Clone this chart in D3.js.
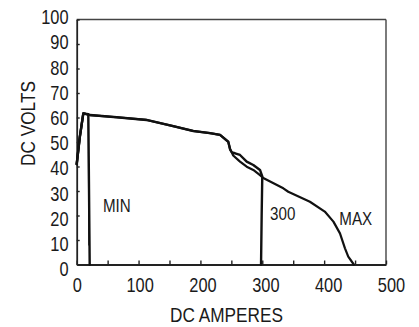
<!DOCTYPE html>
<html>
<head>
<meta charset="utf-8">
<script src="https://cdn.jsdelivr.net/npm/d3@7"></script>
<style>
  body { margin: 0; background: #fff; }
  svg text { font-family: "Liberation Sans", Arial, sans-serif; fill: #1a1a1a; }
</style>
</head>
<body>
<svg id="chart" width="419" height="327"></svg>
<script>
// Data (amps, volts)
const xTickLabels = [0, 100, 200, 300, 400, 500];
const yTickLabels = [0, 10, 20, 30, 40, 50, 60, 70, 80, 90, 100];

const minAmps  = [0, 5, 10.7, 18.8, 21];
const minVolts = [41, 52, 61.7, 61.4, 0];

// short second trace beside the MIN drop, stops near 8 V
const minTraceAmps  = [18.6, 19.6];
const minTraceVolts = [61, 8];

const sharedAmps  = [0, 5, 10.7, 21.5, 64.7, 113, 156, 188.5, 215.5, 231.7, 245, 248, 250.6];
const sharedVolts = [41, 52, 61.7, 61, 60.1, 59, 56.5, 54.5, 53.6, 52.9, 50.1, 47, 45.8];

const amps300  = [256, 264, 274.8, 285.5, 296.3, 300, 299, 298];
const volts300 = [45.4, 44.7, 42, 40.6, 38.6, 36, 20, 0];

const ampsMax  = [253, 264, 274.8, 285.5, 296.3, 301.6, 334, 342, 377, 401, 415, 425.6, 433.7, 439, 448];
const voltsMax = [44.5, 42, 39.9, 38.6, 36.5, 35.3, 31.1, 29.7, 25.6, 21.6, 17.5, 12.7, 6.6, 3.2, 0];

const labels = [
  { text: "MIN", amps: 42.5, volts: 21.5 },
  { text: "300", amps: 312.5, volts: 18.2 },
  { text: "MAX", amps: 424.5, volts: 16.1 }
];

const svg = d3.select("#chart");
const squeeze = 0.82; // original type is a condensed face

// Plot area
const x = d3.scaleLinear().domain([0, 500]).range([76.7, 386]);
const y = d3.scaleLinear().domain([0, 100]).range([264.5, 19.5]);

// tick labels sit on a slightly wider spacing than the ticks in the original
const xLab = d3.scaleLinear().domain([0, 500]).range([77.3, 391.5]);
const yLab = d3.scaleLinear().domain([0, 100]).range([269, 17]);

// Frame: top and right edges
svg.append("line")
    .attr("x1", x(0)).attr("x2", x(500))
    .attr("y1", y(100)).attr("y2", y(100))
    .attr("stroke", "#444").attr("stroke-width", 1.4);
svg.append("line")
    .attr("x1", x(500)).attr("x2", x(500))
    .attr("y1", y(100)).attr("y2", y(0))
    .attr("stroke", "#444").attr("stroke-width", 1.4);

// Axes with inward ticks
const xAxis = svg.append("g")
    .attr("transform", `translate(0,${y(0)})`)
    .call(d3.axisBottom(x).tickValues(d3.range(0, 501, 50)).tickSizeInner(-4).tickSizeOuter(0).tickFormat(""));
const yAxis = svg.append("g")
    .attr("transform", `translate(${x(0)},0)`)
    .call(d3.axisLeft(y).tickValues(yTickLabels).tickSizeInner(-3).tickSizeOuter(0).tickFormat(""));
[xAxis, yAxis].forEach(g => {
    g.select(".domain").attr("stroke", "#222").attr("stroke-width", 1.8);
    g.selectAll(".tick line").attr("stroke", "#222").attr("stroke-width", 1.4);
});

// Tick labels
svg.selectAll(".xLabels")
    .data(xTickLabels)
    .enter()
    .append("text")
    .attr("class", "xLabels")
    .attr("transform", d => `translate(${xLab(d)},291.5) scale(${squeeze},1)`)
    .attr("text-anchor", "middle")
    .style("font-size", "20px")
    .text(d => d);

svg.selectAll(".yLabels")
    .data(yTickLabels)
    .enter()
    .append("text")
    .attr("class", "yLabels")
    .attr("transform", d => `translate(68.5,${yLab(d)}) scale(${squeeze},1)`)
    .attr("dy", "0.36em")
    .attr("text-anchor", "end")
    .style("font-size", "20px")
    .text(d => d);

// Axis titles
svg.append("text")
    .attr("transform", `translate(226.5,321.5) scale(${squeeze},1)`)
    .attr("text-anchor", "middle")
    .style("font-size", "21px")
    .text("DC AMPERES");

svg.append("text")
    .attr("transform", `translate(35,123.5) rotate(-90) scale(${squeeze},1)`)
    .attr("text-anchor", "middle")
    .style("font-size", "21px")
    .text("DC VOLTS");

// Curves
const line = d3.line().x(d => x(d[0])).y(d => y(d[1]));
const zip = (a, b) => a.map((v, i) => [v, b[i]]);

const curves = [
    { pts: zip(sharedAmps, sharedVolts).concat(zip(amps300, volts300)), w: 2.4 },
    { pts: zip(sharedAmps, sharedVolts).concat(zip(ampsMax, voltsMax)), w: 2.2 },
    { pts: zip(minAmps, minVolts), w: 2.4 },
    { pts: zip(minTraceAmps, minTraceVolts), w: 1.1 }
];

svg.selectAll(".curve")
    .data(curves)
    .enter()
    .append("path")
    .attr("class", "curve")
    .attr("d", d => line(d.pts))
    .attr("fill", "none")
    .attr("stroke", "#111")
    .attr("stroke-width", d => d.w)
    .attr("stroke-linejoin", "round")
    .attr("stroke-linecap", "round");

// Curve labels
svg.selectAll(".curveLabels")
    .data(labels)
    .enter()
    .append("text")
    .attr("class", "curveLabels")
    .attr("transform", d => `translate(${x(d.amps)},${y(d.volts)}) scale(${squeeze},1)`)
    .style("font-size", "18.5px")
    .text(d => d.text);
</script>
</body>
</html>
